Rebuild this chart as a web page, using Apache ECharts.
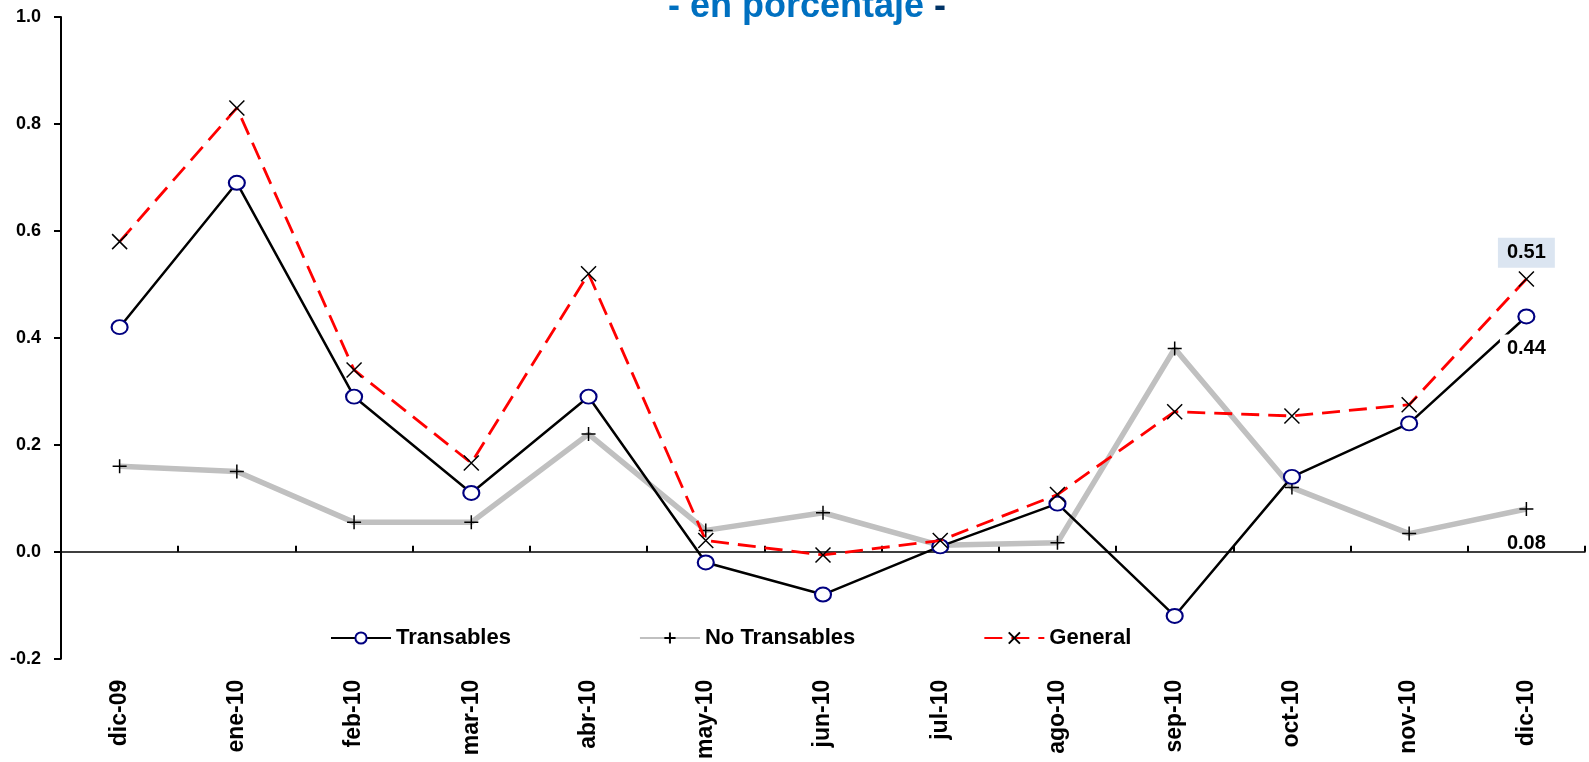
<!DOCTYPE html>
<html>
<head>
<meta charset="utf-8">
<script src="https://cdn.jsdelivr.net/npm/echarts@6/dist/echarts.min.js"></script>
<style>
    html, body { margin: 0; padding: 0; background: #fff; }
    #chart { width: 1589px; height: 762px; }
</style>
</head>
<body>
<div id="chart"></div>
<script>
const months = ['dic-09', 'ene-10', 'feb-10', 'mar-10', 'abr-10', 'may-10', 'jun-10',
    'jul-10', 'ago-10', 'sep-10', 'oct-10', 'nov-10', 'dic-10']
const transables = [0.42, 0.69, 0.29, 0.11, 0.29, -0.02, -0.08, 0.01, 0.09, -0.12, 0.14, 0.24, 0.44]
const noTransables = [0.16, 0.15, 0.055, 0.055, 0.22, 0.04, 0.073, 0.012, 0.017, 0.38, 0.12, 0.034, 0.08]
const general = [0.58, 0.83, 0.34, 0.166, 0.52, 0.021, -0.006, 0.021, 0.107, 0.262, 0.254, 0.275, 0.51]
const yTicks = [-0.2, 0, 0.2, 0.4, 0.6, 0.8, 1.0]

const font = 'Liberation Sans, Arial, sans-serif'
const cross = 'path://M0,0L10,10M10,0L0,10'
const plus = 'path://M5,0L5,10M0,5L10,5'

// only the last point of each series carries a value label
const withLastLabel = (values, label) => values.map((v, i) =>
    i === values.length - 1 ? { value: v, label: label } : v
)

let myChart = echarts.init(document.getElementById('chart'))
let option = {
    backgroundColor: '#fff',
    animation: false,
    title: {
        text: '{a|- en porcentaje }{b|-}',
        left: 663,
        top: -16,
        textStyle: {
            rich: {
                a: { fontFamily: font, fontWeight: 'bold', fontSize: 36, color: '#0070C0' },
                b: { fontFamily: font, fontWeight: 'bold', fontSize: 36, color: '#003366' }
            }
        }
    },
    grid: { left: 61, right: 4, top: 17, bottom: 98 },
    legend: {
        left: 325,
        top: 622,
        itemWidth: 60,
        itemHeight: 14,
        itemGap: 128,
        textStyle: { fontFamily: font, fontWeight: 'bold', fontSize: 22, color: '#000' },
        data: ['Transables', 'No Transables', 'General']
    },
    xAxis: [
        {
            type: 'category',
            data: months,
            position: 'bottom',
            axisLine: { show: false, onZero: false },
            axisTick: { show: false },
            axisLabel: {
                rotate: 90,
                margin: 21,
                fontFamily: font,
                fontWeight: 'bold',
                fontSize: 23,
                color: '#000'
            }
        },
        {
            type: 'category',
            data: months,
            position: 'bottom',
            axisLine: { show: true, onZero: true, lineStyle: { color: '#000', width: 1.5 } },
            axisTick: { show: true, inside: true, length: 6, lineStyle: { color: '#000', width: 2 } },
            axisLabel: { show: false }
        }
    ],
    yAxis: {
        type: 'value',
        min: yTicks[0],
        max: yTicks[yTicks.length - 1],
        interval: 0.2,
        axisLine: { show: true, lineStyle: { color: '#000', width: 2 } },
        axisTick: { show: true, length: 7, lineStyle: { color: '#000', width: 2 } },
        splitLine: { show: false },
        axisLabel: {
            margin: 20,
            fontFamily: font,
            fontWeight: 'bold',
            fontSize: 18,
            color: '#000',
            formatter: v => v.toFixed(1)
        }
    },
    series: [
        {
            name: 'Transables',
            type: 'line',
            z: 3,
            data: withLastLabel(transables, {
                show: true, position: 'bottom', distance: 10,
                fontFamily: font, fontWeight: 'bold', fontSize: 20, color: '#000',
                backgroundColor: '#fff', padding: [4, 7],
                formatter: p => p.value.toFixed(2)
            }),
            symbol: 'emptyCircle',
            symbolSize: [16, 14],
            showAllSymbol: true,
            lineStyle: { color: '#000', width: 2.5 },
            itemStyle: { color: '#000080', borderWidth: 1.5 }
        },
        {
            name: 'No Transables',
            type: 'line',
            z: 2,
            data: withLastLabel(noTransables, {
                show: true, position: 'bottom', distance: 17,
                fontFamily: font, fontWeight: 'bold', fontSize: 20, color: '#000',
                formatter: p => p.value.toFixed(2)
            }),
            symbol: plus,
            symbolSize: 14,
            showAllSymbol: true,
            lineStyle: { color: '#C0C0C0', width: 5.5 },
            itemStyle: { color: '#C0C0C0', borderColor: '#000', borderWidth: 1.5 }
        },
        {
            name: 'General',
            type: 'line',
            z: 4,
            data: withLastLabel(general, {
                show: true, position: 'top', distance: 3,
                fontFamily: font, fontWeight: 'bold', fontSize: 20, color: '#000',
                backgroundColor: '#DBE5F1', padding: [5, 9],
                formatter: p => p.value.toFixed(2)
            }),
            symbol: cross,
            symbolSize: 15,
            showAllSymbol: true,
            lineStyle: { color: '#FF0000', width: 2.8, type: [18, 9] },
            itemStyle: { color: '#FF0000', borderColor: '#000', borderWidth: 1.5 }
        }
    ]
}

option && myChart.setOption(option)
</script>
</body>
</html>
